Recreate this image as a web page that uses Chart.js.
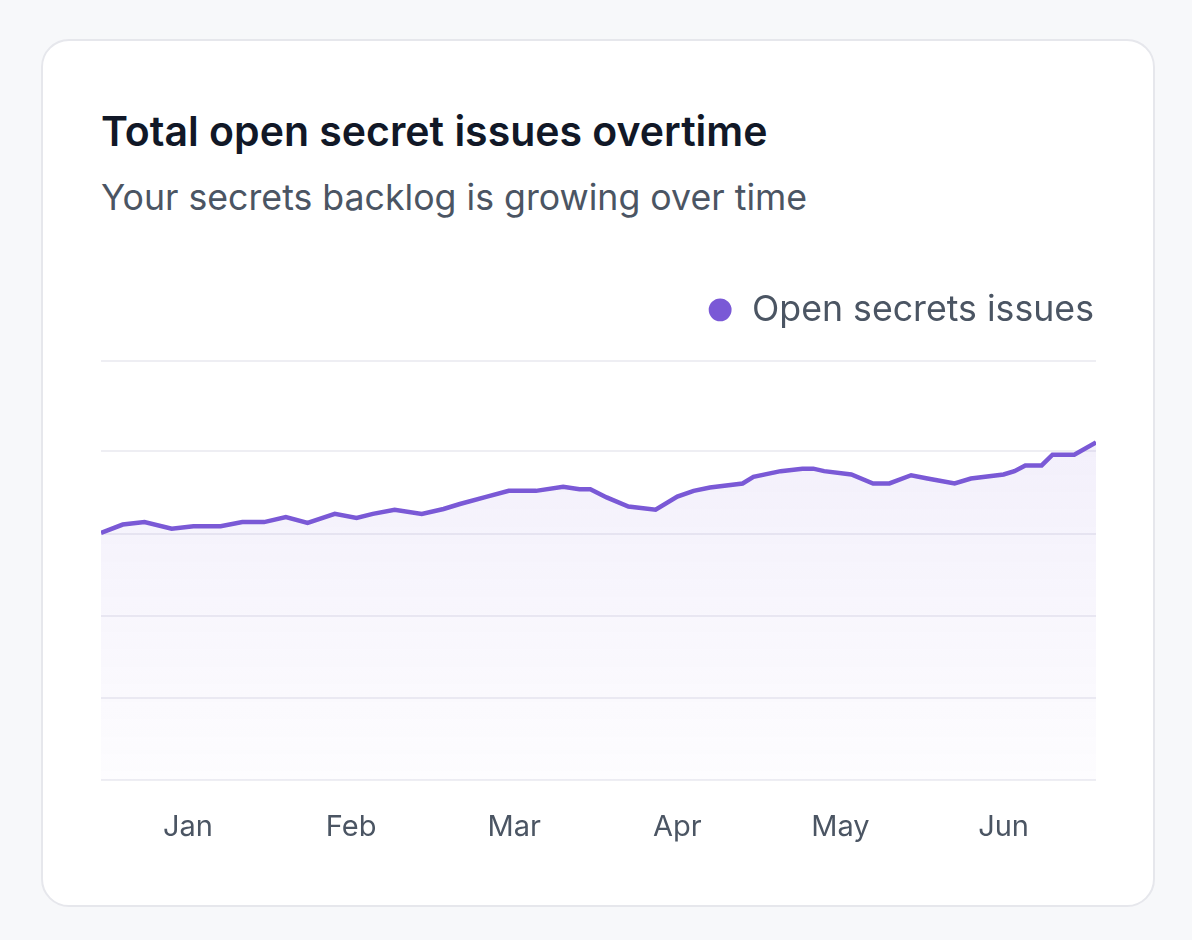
<!DOCTYPE html>
<html>
<head>
<meta charset="utf-8">
<script src="https://cdn.jsdelivr.net/npm/chart.js@4.4.1/dist/chart.umd.min.js"></script>
<style>
  html, body { margin: 0; padding: 0; background: #f7f8fa; }
  body { width: 1192px; height: 940px; position: relative; font-family: Inter, "Noto Sans", sans-serif; }
  .card {
    position: absolute; left: 41px; top: 39px; width: 1110px; height: 864px;
    background: #fff; border: 2px solid #e6e7ec; border-radius: 28px;
  }
  h1 {
    position: absolute; left: 58px; top: 65px; margin: 0;
    font-size: 41px; font-weight: 600; color: #111827;
  }
  p.sub {
    position: absolute; left: 58px; top: 134px; margin: 0;
    font-size: 35.7px; font-weight: 400; color: #4b5563;
  }
  .chart-box { position: absolute; left: 58px; top: 249px; width: 995px; height: 577px; }
</style>
</head>
<body>
<div class="card">
  <h1>Total open secret issues overtime</h1>
  <p class="sub">Your secrets backlog is growing over time</p>
  <div class="chart-box"><canvas id="issuesChart"></canvas></div>
</div>
<script>
// x = days since start of series, y = open issues
const dias = [0, 4, 8, 13, 17, 22, 26, 30, 34, 38, 43, 47, 50, 54, 59, 63, 66, 71, 75, 80,
  85, 88, 90, 93, 97, 102, 106, 109, 112, 118, 120, 125, 129, 131, 133, 138, 142, 145, 149, 152,
  157, 160, 166, 168, 170, 173, 175, 179, 183];
const abertos = [301, 311, 314, 306, 309, 309, 314, 314, 320, 313, 324, 319, 324, 329, 324, 330, 336, 345, 352, 352,
  357, 354, 354, 344, 333, 329, 345, 352, 356, 361, 369, 376, 379, 379, 376, 372, 361, 361, 371, 367,
  361, 367, 372, 376, 383, 383, 396, 396, 411];
const meses = ["Jan", "Feb", "Mar", "Apr", "May", "Jun"];
const diasMeses = [16, 46, 76, 106, 136, 166];
const linhasY = [0, 100, 200, 300, 400, 510];

const roxo = "#7a59d6";

// altura fixa da legenda (espaço até a primeira linha da grade)
const alturaLegenda = {
  id: "alturaLegenda",
  beforeInit(chart) {
    const fitOriginal = chart.legend.fit;
    chart.legend.fit = function () {
      fitOriginal.bind(chart.legend)();
      this.height = 71;
    };
  },
};

const ctx = document.getElementById("issuesChart").getContext("2d");

new Chart(ctx, {
  type: "line",
  data: {
    datasets: [
      {
        label: "Open secrets issues",
        data: dias.map((d, i) => ({ x: d, y: abertos[i] })),
        borderColor: roxo,
        backgroundColor: roxo,
        borderWidth: 4.5,
        pointRadius: 0,
        tension: 0,
        fill: {
          target: "origin",
          above: function (context) {
            const area = context.chart.chartArea;
            if (!area) return "rgba(122,89,214,0.08)";
            const g = context.chart.ctx.createLinearGradient(0, area.top, 0, area.bottom);
            g.addColorStop(0, "rgba(122,89,214,0.11)");
            g.addColorStop(1, "rgba(122,89,214,0.015)");
            return g;
          },
        },
      },
    ],
  },
  options: {
    responsive: true,
    maintainAspectRatio: false,
    animation: false,
    layout: { padding: 0 },
    plugins: {
      tooltip: { enabled: false },
      legend: {
        position: "top",
        align: "end",
        labels: {
          usePointStyle: true,
          pointStyle: "circle",
          boxWidth: 28,
          boxHeight: 13,
          padding: 2,
          color: "#4b5563",
          font: { family: "Inter", size: 35.7 },
        },
      },
    },
    scales: {
      x: {
        type: "linear",
        min: 0,
        max: 183,
        grid: { display: false },
        border: { display: false },
        afterBuildTicks: (axis) => {
          axis.ticks = diasMeses.map((v) => ({ value: v }));
        },
        ticks: {
          autoSkip: false,
          maxRotation: 0,
          padding: 22,
          color: "#4b5563",
          font: { family: "Inter", size: 29 },
          callback: (value) => meses[diasMeses.indexOf(value)],
        },
      },
      y: {
        min: 0,
        max: 510,
        border: { display: false },
        grid: { color: "#eeeef3", lineWidth: 2, drawTicks: false },
        afterBuildTicks: (axis) => {
          axis.ticks = linhasY.map((v) => ({ value: v }));
        },
        ticks: { display: false },
      },
    },
  },
  plugins: [alturaLegenda],
});
</script>
</body>
</html>
